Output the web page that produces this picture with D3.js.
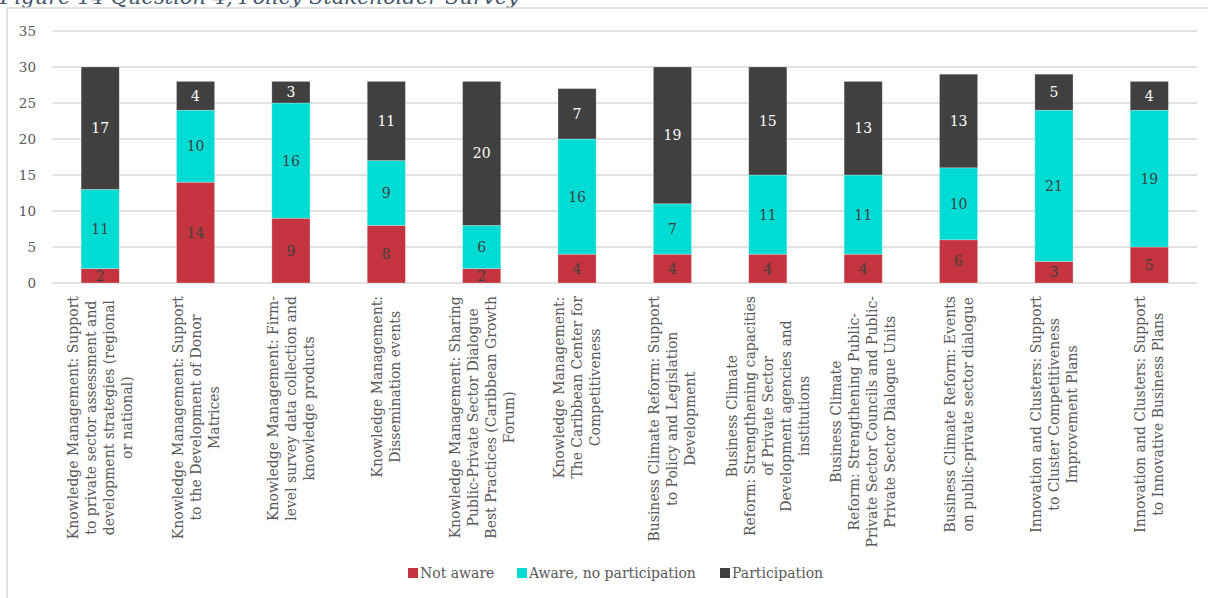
<!DOCTYPE html>
<html>
<head>
<meta charset="utf-8">
<script src="https://cdn.jsdelivr.net/npm/d3@7"></script>
<style>
  html, body { margin: 0; padding: 0; background: #fff; }
  svg { display: block; }
  text { font-family: "DejaVu Serif", Georgia, serif; }
</style>
</head>
<body>
<svg id="chart" width="1208" height="598"></svg>
<script>
// Survey answers per programme activity (respondent counts)
const categories = [
  ["Knowledge Management:  Support", "to private sector assessment and", "development  strategies (regional", "or national)"],
  ["Knowledge Management: Support", "to the Development of Donor", "Matrices"],
  ["Knowledge Management: Firm-", "level survey data collection and", "knowledge products"],
  ["Knowledge Management:", "Dissemination events"],
  ["Knowledge Management:  Sharing", "Public-Private Sector Dialogue", "Best Practices (Caribbean Growth", "Forum)"],
  ["Knowledge Management:", "The Caribbean Center for", "Competitiveness"],
  ["Business Climate Reform: Support", "to Policy and Legislation", "Development"],
  ["Business Climate", "Reform: Strengthening  capacities", "of Private Sector", "Development agencies and", "institutions"],
  ["Business Climate", "Reform: Strengthening  Public-", "Private Sector Councils and Public-", "Private Sector Dialogue Units"],
  ["Business Climate Reform:  Events", "on public-private sector dialogue"],
  ["Innovation and Clusters: Support", "to Cluster Competitiveness", "Improvement  Plans"],
  ["Innovation and Clusters: Support", "to Innovative  Business Plans"]
];
const notAware      = [2, 14, 9, 8, 2, 4, 4, 4, 4, 6, 3, 5];
const awareNoPart   = [11, 10, 16, 9, 6, 16, 7, 11, 11, 10, 21, 19];
const participation = [17, 4, 3, 11, 20, 7, 19, 15, 13, 13, 5, 4];
const seriesNames = ["Not aware", "Aware, no participation", "Participation"];
const yTicks = [0, 5, 10, 15, 20, 25, 30, 35];
const titleText = "Figure 14 Question 4, Policy Stakeholder Survey";

const colors = ["#C3343F", "#00DCD4", "#404040"];
const labelColors = ["#404040", "#404040", "#ffffff"];
const textGray = "#595959";

const svg = d3.select("#chart");

// Caption above the chart frame
svg.append("text")
  .attr("x", 0).attr("y", 4)
  .attr("font-size", 21)
  .attr("font-style", "italic")
  .attr("fill", "#44546A")
  .text(titleText);

// Chart frame
svg.append("rect")
  .attr("x", 7).attr("y", 8)
  .attr("width", 1220).attr("height", 620)
  .attr("fill", "#fff")
  .attr("stroke", "#D9D9D9")
  .attr("stroke-width", 1.5);

const x = d3.scaleBand()
  .domain(d3.range(categories.length))
  .range([52.5, 1197])
  .paddingInner(0.6)
  .paddingOuter(0.3);

const y = d3.scaleLinear().domain([0, 35]).range([283, 31]);

// Horizontal gridlines
svg.append("g")
  .selectAll("line")
  .data(yTicks)
  .join("line")
  .attr("x1", 52.5).attr("x2", 1197)
  .attr("y1", d => y(d)).attr("y2", d => y(d))
  .attr("stroke", "#D9D9D9")
  .attr("stroke-width", 1.5);

// Y axis labels
const yAxis = d3.axisLeft(y).tickValues(yTicks).tickSize(0).tickPadding(0);
const yg = svg.append("g").attr("transform", "translate(36,0)").call(yAxis);
yg.select(".domain").remove();
yg.selectAll("text")
  .attr("font-family", "DejaVu Serif, serif")
  .attr("font-size", 13.5)
  .attr("fill", textGray);

// Stacked series
const rows = categories.map((c, i) => ({
  i,
  "Not aware": notAware[i],
  "Aware, no participation": awareNoPart[i],
  "Participation": participation[i]
}));
const stacked = d3.stack().keys(seriesNames)(rows);

const layers = svg.append("g")
  .selectAll("g")
  .data(stacked)
  .join("g")
  .attr("fill", (d, k) => colors[k]);

layers.selectAll("rect")
  .data(d => d)
  .join("rect")
  .attr("x", d => x(d.data.i))
  .attr("width", x.bandwidth())
  .attr("y", d => y(d[1]))
  .attr("height", d => y(d[0]) - y(d[1]))
  .attr("stroke", "rgba(255,255,255,0.35)")
  .attr("stroke-width", 0.75);

// Value labels centred in each segment
stacked.forEach((layer, k) => {
  svg.append("g")
    .selectAll("text")
    .data(layer)
    .join("text")
    .attr("x", d => x(d.data.i) + x.bandwidth() / 2)
    .attr("y", d => (y(d[0]) + y(d[1])) / 2)
    .attr("text-anchor", "middle")
    .attr("dominant-baseline", "central")
    .attr("font-size", 14)
    .attr("fill", labelColors[k])
    .text(d => d[1] - d[0]);
});

// Category labels: rotated, multi-line, centred lines, block top-aligned under the axis
const labelTop = 296;
const lineGap = 18;
const catG = svg.append("g");
categories.forEach((lines, i) => {
  const cx = x(i) + x.bandwidth() / 2;
  const g = catG.append("g").attr("transform", "rotate(-90)");
  const texts = lines.map((t, j) => g.append("text")
    .attr("text-anchor", "middle")
    .attr("dominant-baseline", "central")
    .attr("font-size", 14)
    .attr("fill", textGray)
    .attr("y", cx + (j - (lines.length - 1) / 2) * lineGap)
    .text(t));
  const maxW = d3.max(texts, t => t.node().getComputedTextLength());
  texts.forEach(t => t.attr("x", -(labelTop + maxW / 2)));
});

// Legend
const legendX = [408, 517, 720];
const lg = svg.append("g");
seriesNames.forEach((name, k) => {
  lg.append("rect")
    .attr("x", legendX[k]).attr("y", 568)
    .attr("width", 10).attr("height", 10)
    .attr("fill", colors[k]);
  lg.append("text")
    .attr("x", legendX[k] + 12).attr("y", 573)
    .attr("dominant-baseline", "central")
    .attr("font-size", 14)
    .attr("fill", textGray)
    .text(name);
});
</script>
</body>
</html>
